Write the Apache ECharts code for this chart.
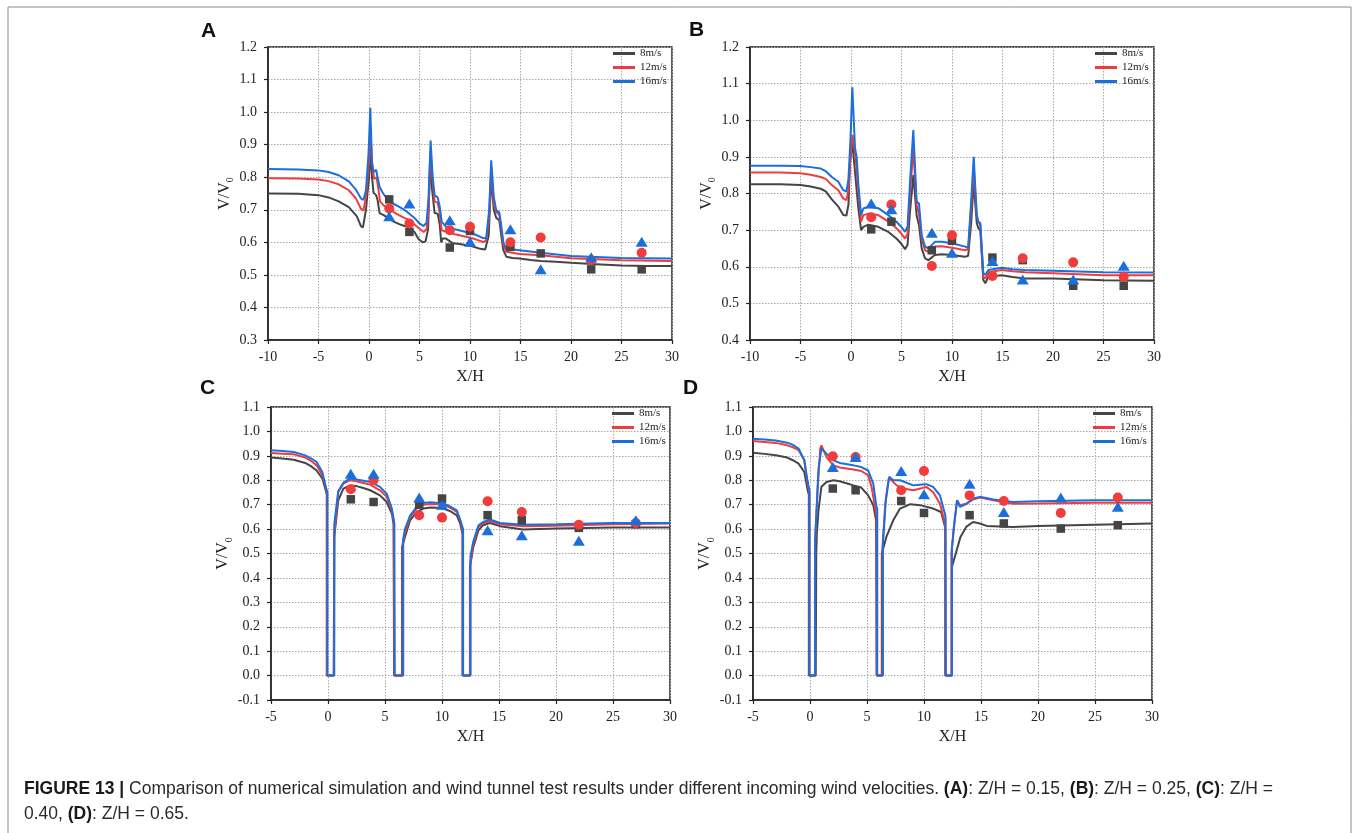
<!DOCTYPE html>
<html>
<head>
<meta charset="utf-8">
<script src="https://cdn.jsdelivr.net/npm/echarts@6.0.0/dist/echarts.min.js"></script>
<style>
html,body{margin:0;padding:0;background:#fff;}
#c{width:1356px;height:833px;}
</style>
</head>
<body>
<div id="c"></div>
<script>
// ---------- DATA ----------
const seriesNames = ['8m/s', '12m/s', '16m/s'];
const probeX = [2, 4, 8, 10, 14, 17, 22, 27];

// Panel A  (Z/H = 0.15)
const A_8 = [[-10,0.750],[-7,0.749],[-5,0.745],[-4,0.738],[-3,0.726],[-2,0.708],[-1.2,0.680],[-0.8,0.650],[-0.6,0.646],[-0.3,0.700],[0,0.800],[0.15,0.880],[0.3,0.800],[0.45,0.752],[0.7,0.745],[0.85,0.730],[1.05,0.690],[1.5,0.683],[2.0,0.672],[2.5,0.663],[3.0,0.656],[3.5,0.650],[4.0,0.647],[4.5,0.632],[4.9,0.610],[5.3,0.600],[5.6,0.603],[5.85,0.640],[6.05,0.850],[6.25,0.760],[6.5,0.690],[6.8,0.688],[7.0,0.655],[7.15,0.600],[7.3,0.612],[7.6,0.612],[8.3,0.597],[9.0,0.595],[9.6,0.591],[10.3,0.587],[11.0,0.580],[11.5,0.578],[11.85,0.620],[12.1,0.800],[12.35,0.700],[12.6,0.675],[12.9,0.668],[13.1,0.620],[13.3,0.576],[13.6,0.556],[14.2,0.552],[14.9,0.550],[16,0.546],[17,0.543],[18.5,0.540],[20,0.537],[22.5,0.533],[25,0.529],[27.5,0.527],[30,0.527]];
const A_12 = [[-10,0.797],[-7,0.796],[-5,0.793],[-4,0.788],[-3,0.778],[-2,0.760],[-1.3,0.735],[-0.8,0.703],[-0.55,0.698],[-0.3,0.740],[0,0.850],[0.15,0.935],[0.3,0.850],[0.5,0.795],[0.75,0.800],[0.9,0.770],[1.1,0.725],[1.5,0.712],[2.0,0.703],[2.5,0.692],[3.0,0.683],[3.5,0.675],[4.0,0.668],[4.5,0.655],[5.0,0.642],[5.4,0.632],[5.7,0.640],[5.9,0.700],[6.1,0.880],[6.3,0.790],[6.5,0.725],[6.8,0.722],[7.0,0.690],[7.2,0.637],[7.6,0.633],[8.5,0.625],[9.6,0.617],[10.5,0.610],[11.3,0.601],[11.6,0.605],[11.9,0.680],[12.1,0.830],[12.35,0.720],[12.6,0.693],[12.9,0.685],[13.1,0.640],[13.3,0.592],[13.6,0.571],[14.9,0.564],[17,0.560],[20,0.551],[25,0.545],[30,0.543]];
const A_16 = [[-10,0.825],[-7,0.824],[-5,0.821],[-4,0.816],[-3,0.806],[-2,0.787],[-1.3,0.762],[-0.8,0.735],[-0.55,0.730],[-0.3,0.760],[-0.05,0.870],[0.13,1.013],[0.3,0.840],[0.45,0.816],[0.7,0.823],[0.85,0.800],[1.05,0.770],[1.4,0.750],[2.0,0.725],[2.5,0.717],[3.0,0.709],[3.5,0.700],[4.0,0.688],[4.5,0.675],[5.0,0.658],[5.4,0.650],[5.7,0.660],[5.9,0.740],[6.1,0.913],[6.3,0.800],[6.5,0.744],[6.8,0.738],[7.0,0.710],[7.2,0.664],[7.6,0.648],[8.5,0.640],[9.6,0.632],[10.5,0.624],[11.3,0.613],[11.6,0.612],[11.9,0.700],[12.1,0.852],[12.35,0.740],[12.6,0.698],[12.9,0.692],[13.1,0.650],[13.3,0.600],[13.6,0.580],[14.9,0.576],[17,0.568],[20,0.558],[25,0.552],[30,0.550]];
const A_sq = [0.732,0.632,0.584,0.635,0.586,0.566,0.517,0.517];
const A_ci = [0.704,0.658,0.637,0.648,0.600,0.615,0.545,0.568];
const A_tr = [0.680,0.719,0.668,0.602,0.640,0.517,0.554,0.602];

// Panel B  (Z/H = 0.25)
const B_8 = [[-10,0.825],[-7,0.825],[-5,0.823],[-4,0.819],[-3,0.813],[-2.5,0.806],[-1.9,0.784],[-1.25,0.764],[-0.76,0.741],[-0.45,0.740],[-0.25,0.770],[-0.1,0.886],[0.13,0.940],[0.4,0.859],[0.56,0.809],[0.73,0.759],[1.0,0.700],[1.22,0.709],[1.72,0.715],[2.7,0.709],[3.7,0.695],[4.5,0.677],[5.0,0.662],[5.35,0.648],[5.6,0.660],[5.84,0.750],[6.17,0.850],[6.5,0.740],[6.73,0.714],[7.0,0.650],[7.33,0.623],[7.66,0.618],[8.3,0.632],[9.0,0.634],[10.0,0.632],[11.3,0.627],[11.6,0.630],[11.9,0.720],[12.15,0.830],[12.45,0.720],[12.6,0.705],[12.8,0.700],[13.1,0.564],[13.3,0.555],[13.6,0.573],[14.9,0.577],[16,0.572],[17.2,0.568],[20,0.568],[25,0.563],[30,0.562]];
const B_12 = [[-10,0.857],[-7,0.857],[-5,0.855],[-4,0.851],[-3,0.845],[-2.5,0.840],[-1.9,0.823],[-1.25,0.809],[-0.76,0.786],[-0.45,0.782],[-0.25,0.810],[-0.05,0.900],[0.15,0.960],[0.45,0.900],[0.73,0.805],[1.0,0.723],[1.22,0.741],[1.72,0.745],[2.7,0.741],[3.7,0.723],[4.5,0.705],[5.0,0.690],[5.35,0.677],[5.6,0.690],[5.84,0.800],[6.17,0.920],[6.5,0.768],[6.73,0.745],[7.0,0.677],[7.33,0.645],[7.66,0.641],[8.3,0.655],[9.0,0.656],[10.0,0.652],[11.3,0.645],[11.6,0.648],[11.9,0.760],[12.15,0.870],[12.45,0.740],[12.6,0.723],[12.8,0.715],[13.1,0.573],[13.3,0.568],[13.6,0.585],[14.9,0.591],[16,0.588],[17.2,0.585],[20,0.582],[25,0.577],[30,0.577]];
const B_16 = [[-10,0.876],[-7,0.876],[-5,0.875],[-4,0.872],[-3,0.868],[-2.5,0.861],[-1.9,0.845],[-1.25,0.832],[-0.76,0.809],[-0.45,0.805],[-0.25,0.840],[-0.05,0.950],[0.13,1.090],[0.4,0.923],[0.56,0.900],[0.73,0.823],[1.0,0.741],[1.22,0.759],[1.72,0.764],[2.7,0.760],[3.7,0.741],[4.5,0.723],[5.0,0.708],[5.35,0.695],[5.6,0.710],[5.84,0.830],[6.17,0.973],[6.5,0.777],[6.73,0.773],[7.0,0.686],[7.33,0.655],[7.66,0.650],[8.3,0.668],[9.0,0.668],[10.0,0.664],[11.3,0.655],[11.6,0.652],[11.9,0.780],[12.15,0.900],[12.45,0.740],[12.6,0.723],[12.8,0.720],[13.1,0.582],[13.3,0.578],[13.6,0.591],[14.9,0.597],[16,0.593],[17.2,0.591],[20,0.589],[25,0.585],[30,0.584]];
const B_sq = [0.702,0.723,0.645,0.671,0.625,0.618,0.548,0.548];
const B_ci = [0.735,0.770,0.602,0.686,0.575,0.623,0.612,0.573];
const B_tr = [0.773,0.757,0.693,0.638,0.616,0.565,0.565,0.603];

// Panel C  (Z/H = 0.40)
const C_8 = [[-5,0.893],[-4,0.889],[-3,0.884],[-2,0.871],[-1.5,0.858],[-1,0.840],[-0.5,0.807],[-0.2,0.759],[-0.1,0.740],[-0.1,0],[0.5,0],[0.55,0.568],[0.9,0.718],[1.35,0.766],[1.93,0.779],[2.5,0.776],[3.1,0.768],[3.7,0.759],[4.56,0.738],[5.15,0.711],[5.6,0.663],[5.75,0.622],[5.8,0],[6.5,0],[6.5,0.527],[6.75,0.568],[7.2,0.636],[7.78,0.670],[8.36,0.684],[9.0,0.688],[9.5,0.687],[10.1,0.684],[10.7,0.674],[11.3,0.656],[11.6,0.622],[11.8,0.580],[11.8,0],[12.45,0],[12.45,0.445],[12.75,0.527],[13.2,0.595],[13.6,0.616],[14.2,0.625],[15.1,0.612],[17.1,0.598],[20,0.602],[25,0.606],[30,0.606]];
const C_12 = [[-5,0.912],[-4,0.909],[-3,0.906],[-2,0.893],[-1.5,0.880],[-1,0.861],[-0.5,0.820],[-0.2,0.773],[-0.1,0.750],[-0.1,0],[0.52,0],[0.55,0.580],[0.9,0.752],[1.35,0.786],[1.93,0.800],[2.5,0.796],[3.1,0.789],[3.7,0.782],[4.56,0.759],[5.15,0.732],[5.6,0.677],[5.78,0.630],[5.82,0],[6.55,0],[6.55,0.540],[6.75,0.585],[7.2,0.650],[7.78,0.684],[8.36,0.700],[9.0,0.703],[9.5,0.702],[10.1,0.700],[10.7,0.688],[11.3,0.670],[11.6,0.636],[11.82,0.590],[11.82,0],[12.48,0],[12.48,0.460],[12.75,0.540],[13.2,0.609],[13.6,0.623],[14.2,0.633],[15.1,0.620],[17.1,0.612],[20,0.614],[25,0.620],[30,0.623]];
const C_16 = [[-5,0.923],[-4,0.920],[-3,0.916],[-2,0.902],[-1.5,0.890],[-1,0.875],[-0.5,0.834],[-0.2,0.773],[-0.05,0.750],[-0.05,0],[0.55,0],[0.55,0.620],[0.9,0.755],[1.35,0.790],[1.93,0.807],[2.5,0.803],[3.1,0.798],[3.7,0.793],[4.56,0.773],[5.15,0.745],[5.6,0.684],[5.82,0.622],[5.85,0],[6.6,0],[6.6,0.560],[6.75,0.600],[7.2,0.655],[7.78,0.691],[8.36,0.707],[9.0,0.710],[9.5,0.708],[10.1,0.706],[10.7,0.693],[11.3,0.677],[11.65,0.630],[11.85,0.600],[11.85,0],[12.5,0],[12.5,0.490],[12.75,0.550],[13.2,0.615],[13.6,0.629],[14.2,0.639],[15.1,0.625],[17.1,0.618],[20,0.620],[25,0.625],[30,0.625]];
const C_sq = [0.722,0.711,0.700,0.725,0.657,0.636,0.605,0.620];
const C_ci = [0.763,0.800,0.657,0.647,0.714,0.670,0.618,0.625];
const C_tr = [0.827,0.827,0.729,0.700,0.595,0.575,0.552,0.636];

// Panel D  (Z/H = 0.65)
const D_8 = [[-5,0.913],[-4,0.908],[-3,0.902],[-2,0.893],[-1.5,0.882],[-1,0.868],[-0.5,0.834],[-0.2,0.759],[-0.1,0.740],[-0.1,0],[0.5,0],[0.55,0.500],[0.6,0.582],[0.75,0.680],[1.0,0.773],[1.45,0.793],[2.05,0.800],[2.6,0.796],[3.2,0.788],[3.8,0.779],[4.5,0.770],[5.1,0.738],[5.55,0.698],[5.8,0.636],[5.85,0],[6.3,0],[6.3,0.500],[6.7,0.568],[7.3,0.636],[7.9,0.684],[8.8,0.702],[9.65,0.698],[10.8,0.684],[11.5,0.670],[11.85,0.609],[11.9,0],[12.45,0],[12.45,0.445],[12.7,0.486],[13.2,0.568],[13.7,0.609],[14.3,0.629],[14.9,0.623],[15.5,0.613],[17.8,0.609],[20,0.613],[25,0.618],[30,0.623]];
const D_12 = [[-5,0.961],[-4,0.957],[-3,0.953],[-2,0.943],[-1.5,0.935],[-1,0.923],[-0.5,0.882],[-0.3,0.814],[-0.15,0.770],[-0.05,0.750],[-0.05,0],[0.45,0],[0.45,0.554],[0.65,0.750],[0.9,0.930],[1.0,0.943],[1.45,0.895],[2.05,0.861],[2.6,0.852],[3.8,0.844],[4.5,0.838],[5.1,0.820],[5.4,0.773],[5.7,0.691],[5.85,0.650],[5.85,0],[6.35,0],[6.35,0.520],[6.6,0.700],[6.9,0.807],[7.15,0.800],[7.6,0.779],[8.2,0.766],[9.05,0.759],[9.6,0.765],[10.2,0.773],[10.8,0.752],[11.4,0.704],[11.75,0.640],[11.85,0.620],[11.85,0],[12.4,0],[12.4,0.500],[12.6,0.600],[12.9,0.718],[13.15,0.698],[13.7,0.704],[14.3,0.721],[14.9,0.729],[16.1,0.718],[17.8,0.704],[20,0.705],[25,0.708],[30,0.708]];
const D_16 = [[-5,0.970],[-4,0.967],[-3,0.963],[-2,0.954],[-1.5,0.945],[-1,0.930],[-0.5,0.882],[-0.3,0.820],[-0.15,0.780],[-0.05,0.760],[-0.05,0],[0.45,0],[0.45,0.554],[0.75,0.850],[1.0,0.930],[1.45,0.909],[2.05,0.882],[2.6,0.871],[3.8,0.861],[4.5,0.854],[5.1,0.840],[5.55,0.786],[5.8,0.700],[5.9,0.680],[5.9,0],[6.4,0],[6.4,0.540],[6.65,0.720],[6.95,0.814],[7.3,0.800],[7.9,0.800],[9.05,0.779],[9.6,0.782],[10.2,0.784],[10.8,0.773],[11.4,0.738],[11.85,0.660],[11.9,0.640],[11.9,0],[12.45,0],[12.45,0.520],[12.65,0.620],[12.9,0.718],[13.15,0.691],[13.7,0.702],[14.3,0.725],[14.9,0.732],[16.1,0.721],[17.8,0.711],[20,0.714],[25,0.718],[30,0.718]];
const D_sq = [0.766,0.759,0.715,0.666,0.657,0.623,0.602,0.616];
const D_ci = [0.898,0.895,0.759,0.838,0.738,0.715,0.666,0.729];
const D_tr = [0.854,0.895,0.838,0.743,0.786,0.670,0.729,0.691];

// axis ranges
const xRanges = [[-10, 30], [-10, 30], [-5, 30], [-5, 30]];
const yRanges = [[0.3, 1.2], [0.4, 1.2], [-0.1, 1.1], [-0.1, 1.1]];
const panelLetters = ['A', 'B', 'C', 'D'];

// ---------- STYLE / LAYOUT ----------
const lineColors = ['#454545', '#f03c3c', '#1b6fdd'];
const grids = [
  {left: 268, top: 47, width: 404, height: 293},
  {left: 750, top: 47, width: 404, height: 293},
  {left: 271, top: 407, width: 399, height: 293},
  {left: 753, top: 407, width: 399, height: 293}
];
const legendPos = [[613, 48], [1095, 48], [612, 408], [1093, 408]];
const letterPos = [[201, 33], [689, 32], [200, 390], [683, 390]];

const panels = [
  {lines: [A_8, A_12, A_16], sc: [A_sq, A_ci, A_tr]},
  {lines: [B_8, B_12, B_16], sc: [B_sq, B_ci, B_tr]},
  {lines: [C_8, C_12, C_16], sc: [C_sq, C_ci, C_tr]},
  {lines: [D_8, D_12, D_16], sc: [D_sq, D_ci, D_tr]}
];

const serif = 'Liberation Serif, "Times New Roman", serif';
const sans = 'Liberation Sans, Arial, Helvetica, sans-serif';

const xAxes = [], yAxes = [], series = [], legends = [];
panels.forEach((p, i) => {
  xAxes.push({
    type: 'value', gridIndex: i, min: xRanges[i][0], max: xRanges[i][1], interval: 5,
    name: 'X/H', nameLocation: 'middle', nameGap: 29,
    nameTextStyle: {fontFamily: serif, fontSize: 16, color: '#222'},
    axisLine: {show: true, onZero: false, lineStyle: {color: '#222', width: 1.5}},
    axisTick: {show: true, inside: false, length: 4, lineStyle: {color: '#222', width: 1.2}},
    axisLabel: {fontFamily: serif, fontSize: 14, color: '#222', margin: 10},
    splitLine: {show: true, lineStyle: {color: '#a8a8a8', width: 1, type: [1.5, 1.5]}}
  });
  yAxes.push({
    type: 'value', gridIndex: i, min: yRanges[i][0], max: yRanges[i][1], interval: 0.1,
    name: '{a|V/V}{s|0}', nameLocation: 'middle', nameGap: 31, nameRotate: 90,
    nameTextStyle: {
      fontFamily: serif, fontSize: 16, color: '#222',
      rich: {
        a: {fontFamily: serif, fontSize: 16, color: '#222', lineHeight: 22, verticalAlign: 'middle'},
        s: {fontFamily: serif, fontSize: 10, color: '#222', lineHeight: 10, verticalAlign: 'bottom'}
      }
    },
    axisLine: {show: true, onZero: false, lineStyle: {color: '#222', width: 1.5}},
    axisTick: {show: true, inside: false, length: 4, lineStyle: {color: '#222', width: 1.2}},
    axisLabel: {fontFamily: serif, fontSize: 14, color: '#222', margin: 11,
      formatter: v => (Math.round(v * 10) / 10).toFixed(1)},
    splitLine: {show: true, lineStyle: {color: '#a8a8a8', width: 1, type: [1.5, 1.5]}}
  });
  p.lines.forEach((d, k) => {
    series.push({
      type: 'line', name: seriesNames[k], xAxisIndex: i, yAxisIndex: i,
      data: d, symbol: 'none', smooth: false, z: 2 + k,
      lineStyle: {color: lineColors[k], width: 2},
      itemStyle: {color: lineColors[k]}
    });
  });
  const syms = ['rect', 'circle', 'triangle'];
  const sizes = [8.5, 10, [12, 10]];
  p.sc.forEach((vals, k) => {
    series.push({
      type: 'scatter', name: 'exp ' + seriesNames[k], xAxisIndex: i, yAxisIndex: i,
      data: probeX.map((x, j) => [x, vals[j]]),
      symbol: syms[k], symbolSize: sizes[k], z: 10 + k,
      itemStyle: {color: lineColors[k], opacity: 1}
    });
  });
  legends.push({
    data: seriesNames.slice(), orient: 'vertical',
    left: legendPos[i][0], top: legendPos[i][1],
    icon: 'rect', itemWidth: 22, itemHeight: 3, itemGap: 3,
    selectedMode: false,
    textStyle: {fontFamily: serif, fontSize: 11, color: '#222', padding: [0, 0, 0, 0]},
    padding: 0
  });
});

const graphics = [
  {type: 'rect', shape: {x: 8, y: 7, width: 1343, height: 840},
   style: {fill: 'none', stroke: '#8a8a8a', lineWidth: 1}, silent: true}
];
panelLetters.forEach((L, i) => {
  graphics.push({
    type: 'text', left: letterPos[i][0], top: letterPos[i][1] - 12,
    style: {text: L, font: 'bold 21px ' + sans, fill: '#111'}
  });
});
graphics.push({
  type: 'text', left: 24, top: 777,
  style: {
    text: '{b|FIGURE 13 |} Comparison of numerical simulation and wind tunnel test results under different incoming wind velocities. {b|(A)}: Z/H = 0.15, {b|(B)}: Z/H = 0.25, {b|(C)}: Z/H =\n0.40, {b|(D)}: Z/H = 0.65.',
    font: '17.5px ' + sans, fill: '#2a2a2a', lineHeight: 25,
    rich: {
      b: {fontFamily: sans, fontWeight: 'bold', fontSize: 17.5, fill: '#1a1a1a', lineHeight: 25}
    }
  }
});

const chart = echarts.init(document.getElementById('c'), null, {renderer: 'canvas'});
chart.setOption({
  animation: false,
  backgroundColor: '#fff',
  grid: grids.map(g => Object.assign({show: true, borderColor: '#222', borderWidth: 1.5, backgroundColor: 'transparent'}, g)),
  xAxis: xAxes,
  yAxis: yAxes,
  legend: legends,
  series: series,
  graphic: graphics
});
</script>
</body>
</html>
